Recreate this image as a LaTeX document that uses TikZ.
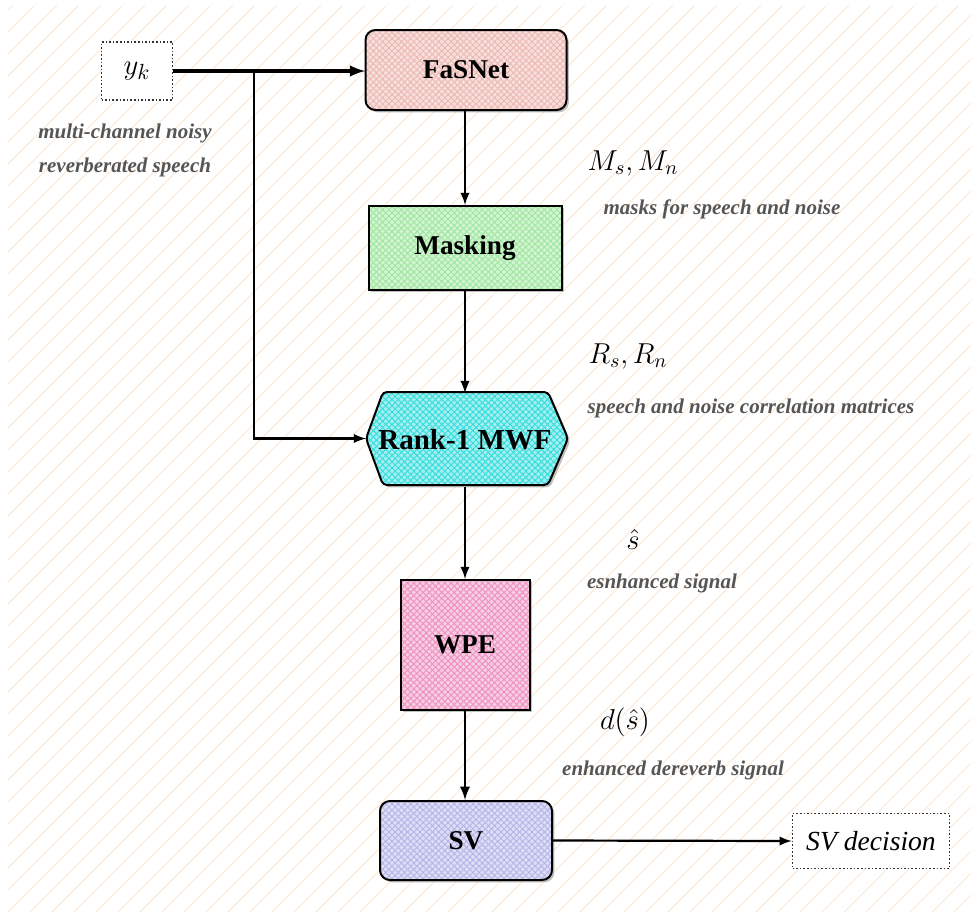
\documentclass[tikz,border=0pt]{standalone}
\usepackage{fontspec}
\setmainfont{Liberation Serif}
\usepackage{tikz}
\usetikzlibrary{patterns.meta}
\usetikzlibrary{shadows}

\definecolor{fasfill}{HTML}{EDB8B2}
\definecolor{maskfill}{HTML}{9EE69E}
\definecolor{mwffill}{HTML}{33DCDC}
\definecolor{wpefill}{HTML}{EE8FC0}
\definecolor{svfill}{HTML}{B4B4E8}
\definecolor{bgline}{HTML}{FDEBDC}
\definecolor{notegray}{HTML}{555555}

\tikzset{
    block/.style={draw=black, line width=1pt,
        font=\fontsize{13.6}{16}\selectfont\bfseries,
        drop shadow={shadow xshift=1.2pt, shadow yshift=-1.2pt, fill=black!40, opacity=0.6}},
    mesh/.style={preaction={fill=#1!45!white},
        pattern={Hatch[angle=45,distance=2.2pt,line width=0.45pt]}, pattern color=#1},
    dotbox/.style={draw=black!80, densely dotted, line width=0.8pt, fill=white},
    note/.style={text=notegray, font=\fontsize{10.5}{12}\selectfont\bfseries\itshape},
    mathnote/.style={font=\fontsize{14.5}{17}\selectfont}
}

\begin{document}
\begin{tikzpicture}[x=0.5pt, y=-0.5pt]
		\useasboundingbox (0,0) rectangle (979,916);
		\fill[white] (0,0) rectangle (979,916);
		% background hatching
		\begin{scope}
		    \clip (8,5) rectangle (971,911);
		    \foreach \a in {-920,-898,...,990}
		        \draw[bgline, line width=0.55pt] (\a,916) -- ++(916,-916);
		\end{scope}

		\node[dotbox, minimum width=35.5pt, minimum height=29pt, font=\fontsize{15.5}{18}\selectfont] (yk) at (137,71) {$y_k$};
		\node[note] (ykline1) at (125,133) {multi-channel noisy};
		\node[note] (ykline2) at (125,167) {reverberated speech};

		\node[block, mesh=fasfill, rounded corners=5pt, minimum width=100.5pt, minimum height=40pt] (fas) at (466,70) {FaSNet};

		\node[mathnote] (msmn) at (633,163) {$M_s, M_n$};
		\node[note] (msmntxt) at (722,209) {masks for speech and noise};

		\node[block, mesh=maskfill, minimum width=96.5pt, minimum height=42pt] (mask) at (465,248) {Masking};

		\node[mathnote] (rsrn) at (628,356) {$R_s, R_n$};
		\node[note] (rsrntxt) at (751,408) {speech and noise correlation matrices};

		% hexagon for the MWF
		\coordinate (hexW) at (366,438.5);
		\coordinate (hexNW) at (383,392);
		\coordinate (hexNE) at (548,392);
		\coordinate (hexE) at (568,438.5);
		\coordinate (hexSE) at (548,485);
		\coordinate (hexSW) at (383,485);
		\draw[block, mesh=mwffill, rounded corners=2pt] (hexW) -- (hexNW) -- (hexNE) -- (hexE)
		    -- (hexSE) -- (hexSW) -- cycle;
		\node[font=\fontsize{14.5}{16}\selectfont\bfseries, minimum width=82.5pt, minimum height=46.5pt] (mwf) at (465,440) {Rank-1 MWF};

		\node[mathnote] (shat) at (633,539) {$\hat{s}$};
		\node[note] (shattxt) at (662,583) {esnhanced signal};

		\node[block, mesh=wpefill, minimum width=64.5pt, minimum height=65pt] (wpe) at (465,645) {WPE};

		\node[mathnote] (dshat) at (625,722) {$d(\hat{s})$};
		\node[note] (dshattxt) at (673,770) {enhanced dereverb signal};

		\node[block, mesh=svfill, rounded corners=5pt, minimum width=86pt, minimum height=39.5pt] (sv) at (466,840.5) {SV};

		\node[dotbox, minimum width=78.5pt, minimum height=27.5pt, font=\fontsize{13.8}{16}\selectfont\itshape] (dec) at (871,841) {SV decision};

		% arrows
		\coordinate (split) at (254,71);
		\draw[-latex, line width=1.6pt] (yk.east) -- (yk.east -| fas.west);
		\draw[-latex, line width=1.1pt] (split) |- (hexW);
		\draw[-latex, line width=1.1pt] (fas.south -| 465,0) -- (mask.north -| 465,0);
		\draw[-latex, line width=1.1pt] (mask.south -| 465,0) -- (mwf.north -| 465,0);
		\draw[-latex, line width=1.1pt] (mwf.south -| 465,0) -- (wpe.north -| 465,0);
		\draw[-latex, line width=1.3pt] (wpe.south -| 465,0) -- (sv.north -| 465,0);
		\draw[-latex, line width=1.1pt] (sv.east) -- (dec.west);
\end{tikzpicture}
\end{document}
